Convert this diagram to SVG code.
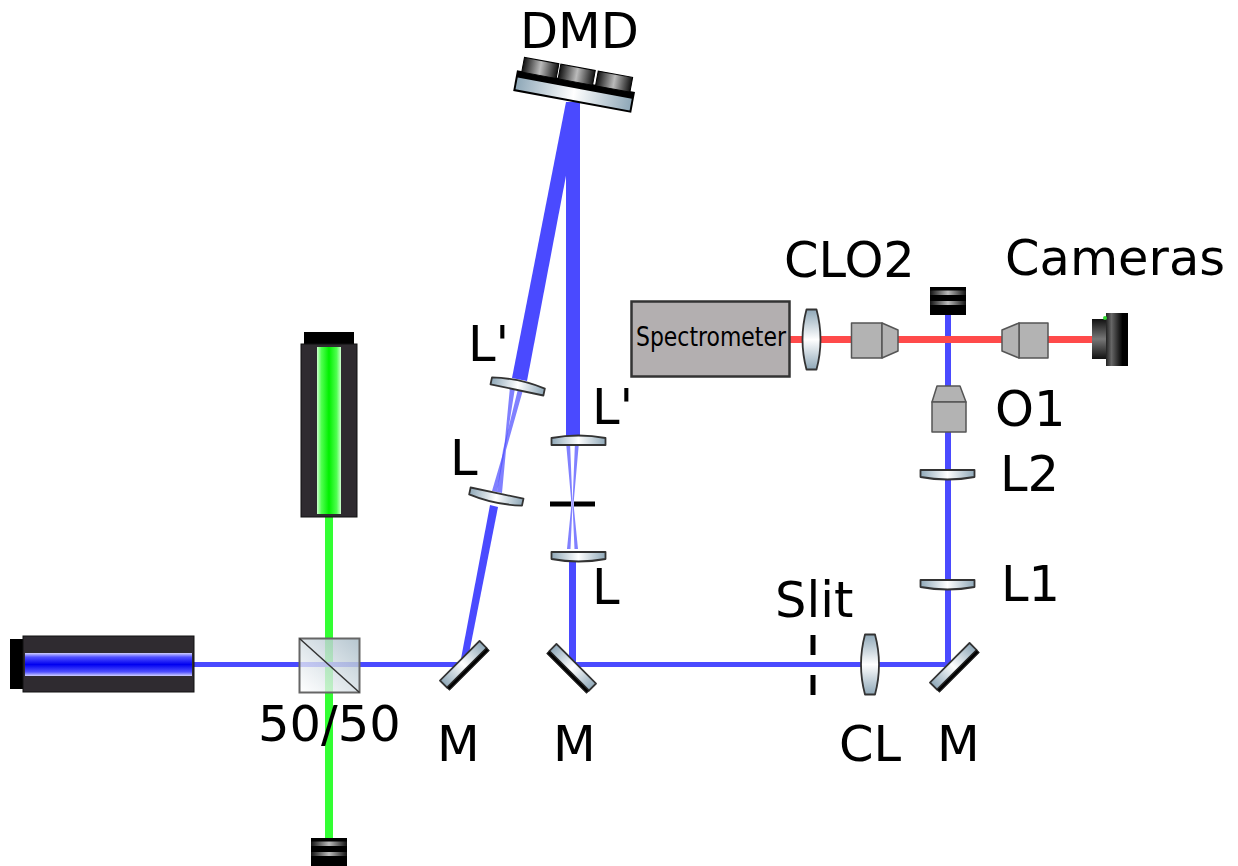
<svg xmlns="http://www.w3.org/2000/svg" width="1238" height="866" viewBox="0 0 1238 866">
<style>
.t{font-family:"DejaVu Sans",sans-serif;font-size:49.500px;fill:#000}
.obj{fill:#b3b3b3;stroke:#555;stroke-width:1.500;stroke-linejoin:round}
.glass{fill:url(#lg);stroke:#333;stroke-width:1.800;stroke-linejoin:round}
.glassv{fill:url(#lgv);stroke:#333;stroke-width:1.800;stroke-linejoin:round}
.b{fill:none;stroke:#4a4aff}
.r{fill:none;stroke:#ff4a4a;stroke-width:7}
.g{fill:none;stroke:#33ff33;stroke-width:8}
.k{fill:#000}
.house{fill:#2f2b30;stroke:#111;stroke-width:1}
.cone{fill:#4a4aff;fill-opacity:.7}
</style>
<defs>
<linearGradient id="lg" x1="0" x2="1" y1="0" y2="0"><stop offset="0" stop-color="#8fa8b8"/><stop offset=".5" stop-color="#fff"/><stop offset="1" stop-color="#8fa8b8"/></linearGradient>
<linearGradient id="lgv" x1="0" x2="0" y1="0" y2="1"><stop offset="0" stop-color="#8fa8b8"/><stop offset=".5" stop-color="#fff"/><stop offset="1" stop-color="#8fa8b8"/></linearGradient>
<linearGradient id="dark" x1="0" x2="1" y1="0" y2="0"><stop offset="0" stop-color="#111"/><stop offset=".5" stop-color="#bbb"/><stop offset="1" stop-color="#111"/></linearGradient>
<linearGradient id="camg" x1="0" x2="0" y1="0" y2="1"><stop offset="0" stop-color="#111"/><stop offset=".5" stop-color="#777"/><stop offset="1" stop-color="#111"/></linearGradient>
<linearGradient id="camh" x1="0" x2="1" y1="0" y2="0"><stop offset="0" stop-color="#222"/><stop offset=".25" stop-color="#666"/><stop offset=".75" stop-color="#000"/><stop offset="1" stop-color="#000"/></linearGradient>
<linearGradient id="bl" x1="0" x2="0" y1="0" y2="1"><stop offset="0" stop-color="#d0d0ff"/><stop offset=".18" stop-color="#5050ff"/><stop offset=".5" stop-color="#0000f0"/><stop offset=".82" stop-color="#5050ff"/><stop offset="1" stop-color="#d0d0ff"/></linearGradient>
<linearGradient id="gr" x1="0" x2="1" y1="0" y2="0"><stop offset="0" stop-color="#d0ffd0"/><stop offset=".18" stop-color="#50ff50"/><stop offset=".5" stop-color="#00f000"/><stop offset=".82" stop-color="#50ff50"/><stop offset="1" stop-color="#d0ffd0"/></linearGradient>
<linearGradient id="cube" x1="0" x2="1" y1="1" y2="0"><stop offset="0" stop-color="#fff" stop-opacity=".75"/><stop offset="1" stop-color="#a9bcc8" stop-opacity=".85"/></linearGradient>
<path id="lensUp" d="M-27 -2Q0 -7 27 -2L27 5L-27 5Z"/>
<path id="lensDown" d="M-27 -5L27 -5L27 2Q0 7 -27 2Z"/>
<path id="lensV" d="M-5 -30L5 -30Q9 -15 9 0Q9 15 5 30L-5 30Q-9 15 -9 0Q-9 -15 -5 -30Z"/>
<g id="dump"><rect x="-18" y="0" width="36" height="28" fill="url(#dark)"/><rect x="-18" y="0" width="36" height="3.500" class="k"/><rect x="-18" y="8" width="36" height="6" class="k"/><rect x="-18" y="18" width="36" height="10" class="k"/></g>
<g id="mirror"><rect x="-28" y="-6" width="56" height="10" class="glass"/><rect x="-28" y="4" width="56" height="3.500" class="k" stroke="#222"/></g>
</defs>

<g id="connectors">
<path class="g" d="M329 517V840"/>
<path class="b" stroke-width="5" d="M194 664.500H462"/>
<polygon fill="#4a4aff" points="460,664 467,664 498,507 490,505"/>
<polygon fill="#4a4aff" points="512,378 527,381 580,102 566,102"/>
<path class="cone" d="M510 387L515 388L505 450L497 492L492 491L504 450Z"/>
<path class="cone" d="M518 389L523 390L506 450L502 493L497 492L503 450Z"/>
<path class="b" stroke-width="14" d="M573 102V437"/>
<path class="cone" d="M566 442L570 442L572.500 504L570.500 549L567 549L571.500 504Z"/>
<path class="cone" d="M575 442L579 442L573.500 504L578 549L574.500 549L572.500 504Z"/>
<path class="b" stroke-width="7" d="M572.500 552V664"/>
<path class="b" stroke-width="5" d="M572 664.500H948"/>
<path class="b" stroke-width="6" d="M948 664V314"/>
<path class="r" d="M790 339.500H1095"/>
</g>

<g id="blue-laser"><rect x="10" y="639" width="14" height="50" class="k"/><rect x="23" y="636" width="171" height="56" class="house"/><rect x="25" y="653" width="167" height="23" fill="url(#bl)"/></g>
<g id="green-laser"><rect x="304" y="332" width="50" height="13" class="k"/><rect x="301" y="344" width="56" height="173" class="house"/><rect x="317" y="347" width="24" height="167" fill="url(#gr)"/></g>
<g id="dump-bottom"><use href="#dump" x="329" y="838"/></g>
<g id="dump-top"><use href="#dump" x="948" y="287"/></g>
<g id="cube-5050"><rect x="299.500" y="638.500" width="60" height="54" fill="url(#cube)" stroke="#666" stroke-width="2"/><path d="M299.500 638.500L359.500 692.500" stroke="#333" stroke-width="1.500"/></g>

<g id="mirror-1"><use href="#mirror" transform="translate(464 665) rotate(-45)"/></g>
<g id="mirror-2"><use href="#mirror" transform="translate(572 668) rotate(45)"/></g>
<g id="mirror-3"><use href="#mirror" transform="translate(954 667) rotate(-45)"/></g>

<g id="lens-lp-left"><use href="#lensUp" class="glass" transform="translate(518 385) rotate(12)"/></g>
<g id="lens-l-left"><use href="#lensDown" class="glass" transform="translate(496 498) rotate(12)"/></g>
<g id="lens-lp-right"><use href="#lensUp" class="glass" transform="translate(578.500 440)"/></g>
<g id="lens-l-right"><use href="#lensDown" class="glass" transform="translate(578.500 557)"/></g>
<g id="stop"><rect x="550" y="501.500" width="21" height="5" class="k"/><rect x="574" y="501.500" width="21" height="5" class="k"/></g>
<g id="slit"><rect x="810.500" y="635" width="5" height="20" class="k"/><rect x="810.500" y="675" width="5" height="20" class="k"/></g>
<g id="lens-cl"><use href="#lensV" class="glassv" transform="translate(870 664.500)"/></g>
<g id="lens-l1"><use href="#lensDown" class="glass" transform="translate(947.500 585)"/></g>
<g id="lens-l2"><use href="#lensDown" class="glass" transform="translate(947.500 475)"/></g>
<g id="lens-clo2"><use href="#lensV" class="glassv" transform="translate(811.500 339.500)"/></g>

<g id="objective-o1"><path class="obj" d="M937 386H960L966 402H932Z"/><rect class="obj" x="932" y="402" width="34" height="30"/></g>
<g id="objective-left"><rect class="obj" x="851.500" y="323" width="30.500" height="35"/><path class="obj" d="M882 323L898 330V351L882 358Z"/></g>
<g id="objective-right"><rect class="obj" x="1019" y="323" width="29" height="35"/><path class="obj" d="M1019 323L1002 330V351L1019 358Z"/></g>
<g id="camera"><rect x="1092" y="319" width="15" height="40" fill="url(#camg)"/><rect x="1106" y="313" width="22" height="53" fill="url(#camh)"/><circle cx="1105" cy="318" r="2" fill="#33dd33"/></g>
<g id="spectrometer"><rect x="631.500" y="301.500" width="158" height="75" fill="#b3afb0" stroke="#333" stroke-width="2.500"/><text x="636" y="346" font-family="'DejaVu Sans',sans-serif" font-size="26" textLength="150" lengthAdjust="spacingAndGlyphs">Spectrometer</text></g>
<g id="dmd" transform="translate(574 92) rotate(10.500)"><rect x="-60" y="-11" width="120" height="21" class="k"/><rect x="-58" y="-4" width="116" height="12" fill="url(#lg)"/><rect x="-55" y="-25" width="35" height="15" fill="url(#dark)" stroke="#000"/><rect x="-18" y="-25" width="35" height="15" fill="url(#dark)" stroke="#000"/><rect x="20" y="-25" width="35" height="15" fill="url(#dark)" stroke="#000"/></g>

<g id="labels">
<text class="t" x="520" y="48">DMD</text>
<text class="t" x="784" y="277">CLO2</text>
<text class="t" x="1005" y="275">Cameras</text>
<text class="t" x="468" y="361">L'</text>
<text class="t" x="592" y="424">L'</text>
<text class="t" x="450" y="475">L</text>
<text class="t" x="592" y="604">L</text>
<text class="t" x="995" y="426">O1</text>
<text class="t" x="1000" y="491">L2</text>
<text class="t" x="1001" y="601">L1</text>
<text class="t" x="775" y="617">Slit</text>
<text class="t" x="258" y="741">50/50</text>
<text class="t" x="437" y="761">M</text>
<text class="t" x="553" y="761">M</text>
<text class="t" x="839" y="761">CL</text>
<text class="t" x="937" y="761">M</text>
</g>
</svg>
